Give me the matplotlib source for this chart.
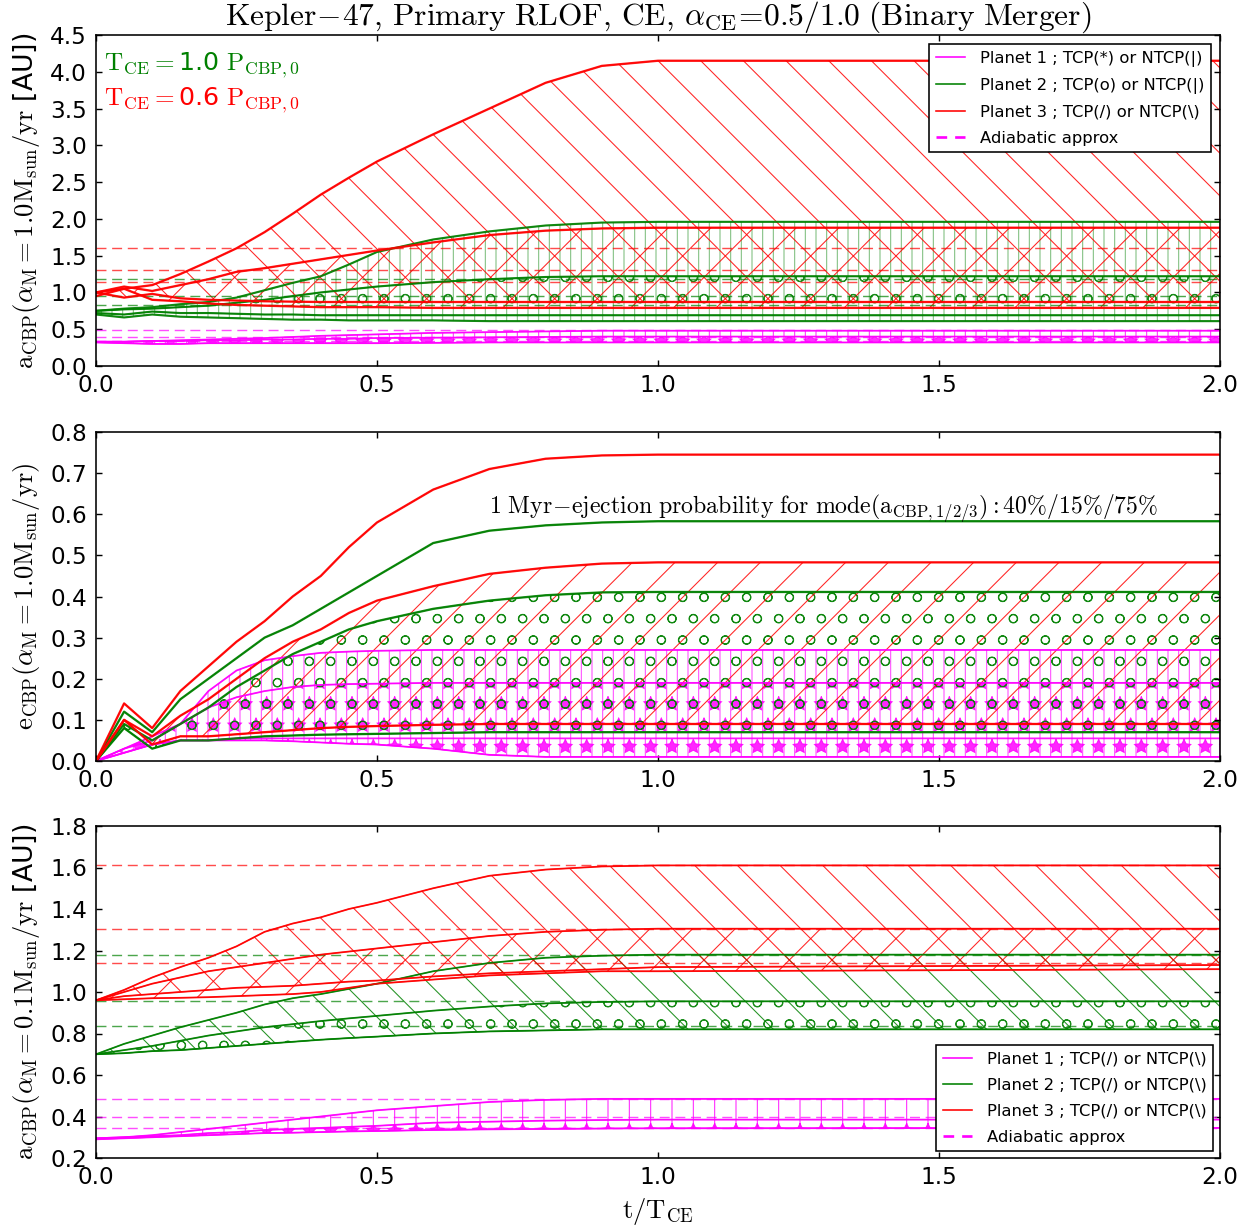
import matplotlib
matplotlib.use("Agg")
import matplotlib.pyplot as plt
from matplotlib.colors import to_rgba
from matplotlib.lines import Line2D

# ---------------- data ----------------
t = [0.0, 0.05, 0.1, 0.15, 0.2, 0.25, 0.3, 0.35, 0.4, 0.45, 0.5, 0.6, 0.7, 0.8, 0.9, 1.0, 2.0]

# Panel 1: a_CBP, alpha_M = 1.0 Msun/yr
red_a1 = [1.00, 1.05, 1.10, 1.25, 1.42, 1.60, 1.82, 2.07, 2.33, 2.56, 2.78, 3.15, 3.50, 3.85, 4.08, 4.15, 4.15]
red_a2 = [1.00, 1.08, 1.02, 1.10, 1.18, 1.28, 1.33, 1.39, 1.45, 1.51, 1.57, 1.68, 1.78, 1.84, 1.87, 1.88, 1.88]
red_a3 = [1.00, 0.93, 0.98, 0.92, 0.90, 0.89, 0.88, 0.875, 0.87, 0.87, 0.87, 0.87, 0.87, 0.87, 0.87, 0.87, 0.87]
red_a4 = [0.95, 1.05, 0.90, 0.88, 0.85, 0.83, 0.82, 0.81, 0.80, 0.80, 0.80, 0.79, 0.79, 0.79, 0.79, 0.79, 0.79]
green_a1 = [0.75, 0.78, 0.80, 0.84, 0.87, 0.93, 1.03, 1.13, 1.22, 1.38, 1.55, 1.72, 1.83, 1.91, 1.95, 1.96, 1.96]
green_a2 = [0.75, 0.77, 0.78, 0.80, 0.82, 0.86, 0.90, 0.95, 1.00, 1.04, 1.08, 1.14, 1.18, 1.21, 1.22, 1.22, 1.22]
green_a3 = [0.72, 0.70, 0.74, 0.72, 0.72, 0.71, 0.70, 0.70, 0.69, 0.69, 0.69, 0.69, 0.69, 0.69, 0.69, 0.69, 0.69]
green_a4 = [0.70, 0.66, 0.70, 0.67, 0.66, 0.65, 0.64, 0.63, 0.63, 0.62, 0.62, 0.62, 0.61, 0.61, 0.61, 0.61, 0.61]
mag_a1 = [0.33, 0.33, 0.34, 0.35, 0.36, 0.37, 0.38, 0.395, 0.41, 0.42, 0.43, 0.45, 0.46, 0.47, 0.48, 0.48, 0.48]
mag_a2 = [0.33, 0.33, 0.34, 0.34, 0.35, 0.35, 0.36, 0.36, 0.37, 0.37, 0.38, 0.385, 0.39, 0.395, 0.40, 0.40, 0.40]
mag_a3 = [0.32, 0.31, 0.30, 0.30, 0.31, 0.31, 0.31, 0.31, 0.31, 0.31, 0.31, 0.315, 0.32, 0.32, 0.32, 0.32, 0.32]

# Panel 2: e_CBP, alpha_M = 1.0 Msun/yr
red_e1 = [0.0, 0.14, 0.08, 0.17, 0.23, 0.29, 0.34, 0.40, 0.45, 0.52, 0.58, 0.66, 0.71, 0.735, 0.743, 0.745, 0.745]
green_e1 = [0.0, 0.12, 0.07, 0.15, 0.20, 0.25, 0.30, 0.33, 0.37, 0.41, 0.45, 0.53, 0.56, 0.573, 0.58, 0.583, 0.583]
red_e2 = [0.0, 0.10, 0.06, 0.11, 0.15, 0.20, 0.25, 0.29, 0.32, 0.36, 0.39, 0.425, 0.455, 0.47, 0.48, 0.483, 0.483]
green_e2 = [0.0, 0.09, 0.05, 0.09, 0.13, 0.18, 0.22, 0.26, 0.29, 0.32, 0.34, 0.37, 0.39, 0.403, 0.41, 0.411, 0.411]
mag_e1 = [0.0, 0.03, 0.05, 0.09, 0.17, 0.22, 0.245, 0.255, 0.263, 0.266, 0.268, 0.27, 0.27, 0.27, 0.27, 0.27, 0.27]
mag_e2 = [0.0, 0.03, 0.06, 0.09, 0.13, 0.155, 0.17, 0.18, 0.185, 0.187, 0.188, 0.19, 0.19, 0.19, 0.19, 0.19, 0.19]
red_e3 = [0.0, 0.10, 0.04, 0.06, 0.06, 0.065, 0.07, 0.075, 0.08, 0.083, 0.085, 0.088, 0.09, 0.09, 0.09, 0.09, 0.09]
green_e3 = [0.0, 0.08, 0.03, 0.05, 0.05, 0.055, 0.06, 0.062, 0.064, 0.065, 0.066, 0.068, 0.07, 0.07, 0.07, 0.07, 0.07]
mag_e3 = [0.0, 0.02, 0.04, 0.05, 0.05, 0.05, 0.05, 0.048, 0.045, 0.042, 0.04, 0.03, 0.015, 0.01, 0.01, 0.01, 0.01]
mag_e4 = [0.0, 0.02, 0.04, 0.05, 0.05, 0.055, 0.055, 0.055, 0.055, 0.055, 0.055, 0.055, 0.055, 0.055, 0.055, 0.055, 0.055]

# Panel 3: a_CBP, alpha_M = 0.1 Msun/yr
red_c1 = [0.96, 1.01, 1.07, 1.12, 1.165, 1.22, 1.29, 1.33, 1.36, 1.40, 1.43, 1.50, 1.56, 1.59, 1.605, 1.61, 1.61]
red_c2 = [0.96, 1.00, 1.04, 1.07, 1.10, 1.12, 1.14, 1.16, 1.18, 1.195, 1.21, 1.24, 1.27, 1.29, 1.30, 1.305, 1.305]
red_c3 = [0.96, 0.98, 0.99, 1.00, 1.01, 1.02, 1.025, 1.03, 1.04, 1.05, 1.055, 1.075, 1.09, 1.10, 1.11, 1.12, 1.13]
red_c4 = [0.96, 0.965, 0.97, 0.972, 0.975, 0.98, 0.985, 0.99, 1.00, 1.02, 1.04, 1.06, 1.08, 1.09, 1.10, 1.10, 1.11]
green_c1 = [0.70, 0.75, 0.79, 0.83, 0.865, 0.90, 0.94, 0.97, 0.99, 1.015, 1.04, 1.10, 1.14, 1.165, 1.175, 1.18, 1.18]
green_c2 = [0.70, 0.72, 0.74, 0.765, 0.79, 0.81, 0.83, 0.845, 0.86, 0.873, 0.885, 0.91, 0.93, 0.945, 0.952, 0.955, 0.955]
green_c3 = [0.70, 0.705, 0.715, 0.72, 0.73, 0.74, 0.75, 0.76, 0.77, 0.778, 0.785, 0.80, 0.81, 0.815, 0.82, 0.82, 0.82]
mag_c1 = [0.295, 0.30, 0.31, 0.325, 0.34, 0.355, 0.37, 0.385, 0.40, 0.415, 0.43, 0.45, 0.47, 0.48, 0.485, 0.485, 0.485]
mag_c2 = [0.295, 0.30, 0.305, 0.31, 0.32, 0.325, 0.335, 0.34, 0.345, 0.35, 0.355, 0.37, 0.375, 0.38, 0.383, 0.385, 0.385]
mag_c3 = [0.29, 0.295, 0.30, 0.305, 0.31, 0.315, 0.32, 0.322, 0.325, 0.328, 0.33, 0.335, 0.338, 0.34, 0.342, 0.343, 0.345]

# adiabatic approximation levels (AU)
adiab_red = [1.61, 1.305, 1.14]
adiab_green = [1.18, 0.955, 0.835]
adiab_mag = [0.485, 0.40, 0.345]

x_ticks = [0.0, 0.5, 1.0, 1.5, 2.0]
legend_labels_top = ['Planet 1 ; TCP(*) or NTCP(|)', 'Planet 2 ; TCP(o) or NTCP(|)',
                     'Planet 3 ; TCP(/) or NTCP(\\)', 'Adiabatic approx']
legend_labels_bot = ['Planet 1 ; TCP(/) or NTCP(\\)', 'Planet 2 ; TCP(/) or NTCP(\\)',
                     'Planet 3 ; TCP(/) or NTCP(\\)', 'Adiabatic approx']

# ---------------- style ----------------
DPI = 128
plt.rcParams['mathtext.fontset'] = 'cm'
plt.rcParams['font.family'] = ['DejaVu Sans']
plt.rcParams['hatch.linewidth'] = 0.6
plt.rcParams['axes.linewidth'] = 0.9
plt.rcParams['xtick.direction'] = 'in'
plt.rcParams['ytick.direction'] = 'in'
plt.rcParams['xtick.top'] = True
plt.rcParams['ytick.right'] = True
plt.rcParams['xtick.major.size'] = 3.5
plt.rcParams['ytick.major.size'] = 3.5
plt.rcParams['xtick.labelsize'] = 13
plt.rcParams['ytick.labelsize'] = 13
plt.rcParams['xtick.major.pad'] = 4.5
plt.rcParams['ytick.major.pad'] = 5

RED = '#ff0000'
GREEN = '#008000'
MAG = '#ff00ff'

fig = plt.figure(figsize=(1255 / DPI, 1226 / DPI), dpi=DPI, facecolor='white')
W, H = 1255.0, 1226.0
left, right = 96 / W, 1220 / W


def make_ax(top_px, bot_px):
    return fig.add_axes([left, 1 - bot_px / H, right - left, (bot_px - top_px) / H])


ax1 = make_ax(35, 366)
ax2 = make_ax(432, 761)
ax3 = make_ax(826, 1158)


def hfill(ax, upper, lower, color, hatch, alpha=0.85, lw=0.6):
    ec = to_rgba(color, alpha)
    with plt.rc_context({'hatch.color': ec}):
        ax.fill_between(t, lower, upper, facecolor='none', edgecolor=ec,
                        hatch=hatch, linewidth=lw)


def curves(ax, color, lst, lw=1.0, alpha=0.9):
    for c in lst:
        ax.plot(t, c, color=color, lw=lw, alpha=alpha)


def adiabatic(ax):
    for vals, col in ((adiab_red, RED), (adiab_green, GREEN), (adiab_mag, MAG)):
        for v in vals:
            ax.axhline(v, color=col, ls=(0, (7, 4)), lw=0.8, alpha=0.7)


# ---- panel 1 ----
adiabatic(ax1)
hfill(ax1, mag_a1, mag_a3, MAG, '||', alpha=0.8)
hfill(ax1, mag_a2, mag_a3, MAG, '*', alpha=0.8)
hfill(ax1, green_a1, green_a4, GREEN, '||', alpha=0.5)
hfill(ax1, green_a2, green_a3, GREEN, 'o', alpha=0.85)
hfill(ax1, red_a1, red_a3, RED, '\\', alpha=0.85)
hfill(ax1, red_a2, red_a4, RED, '/', alpha=0.85)
curves(ax1, MAG, [mag_a1, mag_a2, mag_a3])
curves(ax1, GREEN, [green_a1, green_a2, green_a3, green_a4], lw=1.2)
curves(ax1, RED, [red_a1, red_a2, red_a3, red_a4], lw=1.3)
ax1.set_ylim(0, 4.5)
ax1.set_yticks([0.0, 0.5, 1.0, 1.5, 2.0, 2.5, 3.0, 3.5, 4.0, 4.5])
ax1.set_title(r'$\mathrm{Kepler\!-\!47,\,Primary\ RLOF,\,CE,\,}\alpha_{\mathrm{CE}}\!=\!0.5/1.0\ \mathrm{(Binary\ Merger)}$',
              fontsize=17.7, pad=4)
ax1.set_ylabel(r'$\mathrm{a_{CBP}}(\alpha_{\mathrm{M}}=1.0\mathrm{M_{sun}}/\mathrm{yr}$ [AU])', fontsize=15)
ax1.text(0.007, 0.909, r'$\mathrm{T_{CE}=}$1.0 $\mathrm{P_{CBP,0}}$', color=GREEN, fontsize=14.2,
         transform=ax1.transAxes, ha='left', va='center')
ax1.text(0.007, 0.804, r'$\mathrm{T_{CE}=}$0.6 $\mathrm{P_{CBP,0}}$', color=RED, fontsize=14.2,
         transform=ax1.transAxes, ha='left', va='center')
handles = [Line2D([], [], color=MAG, lw=0.9), Line2D([], [], color=GREEN, lw=0.9),
           Line2D([], [], color=RED, lw=0.9), Line2D([], [], color=MAG, lw=1.5, ls=(0, (4, 3)))]
leg1 = ax1.legend(handles, legend_labels_top, loc='upper right', fontsize=9.2, fancybox=False,
                  framealpha=1, edgecolor='black', borderaxespad=0.55, handlelength=1.8,
                  labelspacing=0.68, handletextpad=0.9)
leg1.get_frame().set_linewidth(0.9)

# ---- panel 2 ----
hfill(ax2, red_e1, red_e3, RED, None, alpha=0.9)
hfill(ax2, green_e1, green_e3, GREEN, None, alpha=0.9)
hfill(ax2, mag_e1, mag_e3, MAG, '||', alpha=0.7)
hfill(ax2, mag_e2, mag_e3, MAG, '*', alpha=0.85)
hfill(ax2, green_e2, green_e3, GREEN, 'o', alpha=0.9)
hfill(ax2, red_e2, red_e3, RED, '/', alpha=0.85)
curves(ax2, MAG, [mag_e1, mag_e2, mag_e3, mag_e4])
curves(ax2, GREEN, [green_e1, green_e2, green_e3], lw=1.3)
curves(ax2, RED, [red_e1, red_e2, red_e3], lw=1.3)
ax2.set_ylim(0, 0.8)
ax2.set_yticks([0.0, 0.1, 0.2, 0.3, 0.4, 0.5, 0.6, 0.7, 0.8])
ax2.set_ylabel(r'$\mathrm{e_{CBP}}(\alpha_{\mathrm{M}}=1.0\mathrm{M_{sun}}/\mathrm{yr})$', fontsize=15)
ax2.text(0.70, 0.615,
         r'$\mathrm{1\ Myr\!-\!ejection\ probability\ for\ mode(a_{CBP,1/2/3})}:40\%/15\%/75\%$',
         fontsize=13.4, ha='left', va='center')

# ---- panel 3 ----
adiabatic(ax3)
hfill(ax3, mag_c1, mag_c3, MAG, '|', alpha=0.85)
hfill(ax3, mag_c2, mag_c3, MAG, '*', alpha=0.85)
hfill(ax3, green_c1, green_c3, GREEN, '\\', alpha=0.85)
hfill(ax3, green_c2, green_c3, GREEN, 'o', alpha=0.85)
hfill(ax3, red_c1, red_c3, RED, '\\', alpha=0.85)
hfill(ax3, red_c2, red_c4, RED, '/', alpha=0.85)
curves(ax3, MAG, [mag_c1, mag_c2, mag_c3])
curves(ax3, GREEN, [green_c1, green_c2, green_c3])
curves(ax3, RED, [red_c1, red_c2, red_c3, red_c4])
ax3.set_ylim(0.2, 1.8)
ax3.set_yticks([0.2, 0.4, 0.6, 0.8, 1.0, 1.2, 1.4, 1.6, 1.8])
ax3.set_ylabel(r'$\mathrm{a_{CBP}}(\alpha_{\mathrm{M}}=0.1\mathrm{M_{sun}}/\mathrm{yr}$ [AU])', fontsize=15)
ax3.set_xlabel(r'$\mathrm{t/T_{CE}}$', fontsize=15, labelpad=4)
handles3 = [Line2D([], [], color=MAG, lw=0.9), Line2D([], [], color=GREEN, lw=0.9),
            Line2D([], [], color=RED, lw=0.9), Line2D([], [], color=MAG, lw=1.5, ls=(0, (4, 3)))]
leg3 = ax3.legend(handles3, legend_labels_bot, loc='lower right', fontsize=9.2, fancybox=False,
                  framealpha=1, edgecolor='black', borderaxespad=0.4, handlelength=1.8,
                  labelspacing=0.68, handletextpad=0.9)
leg3.get_frame().set_linewidth(0.9)

for ax in (ax1, ax2, ax3):
    ax.set_xlim(0, 2.0)
    ax.set_xticks(x_ticks)
    ax.yaxis.set_label_coords(-0.048, 0.5)

fig.savefig('out.png', dpi=DPI, facecolor='white')
